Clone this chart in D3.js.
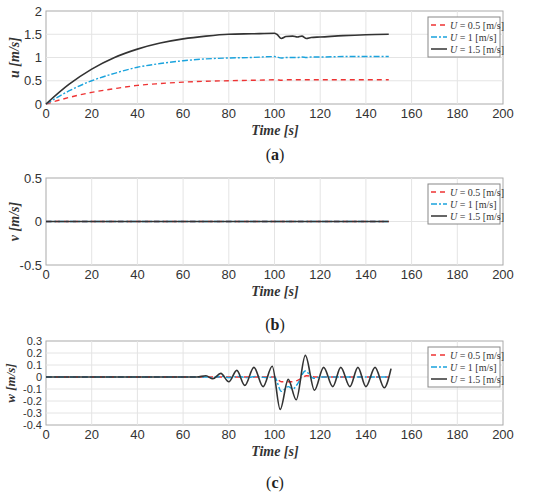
<!DOCTYPE html>
<html><head><meta charset="utf-8">
<script src="https://cdn.jsdelivr.net/npm/d3@7"></script>
<style>body{margin:0;background:#fff}</style>
</head><body><svg id="c" width="550" height="504"></svg>
<script>
// time samples for u
const tU = [0,10,20,30,40,50,60,70,80,90,100,101,103,105,108,110,112,114,116,120,130,140,150];
const u05 = [0,0.14,0.25,0.33,0.40,0.44,0.47,0.49,0.50,0.51,0.52,0.52,0.51,0.52,0.52,0.52,0.52,0.52,0.52,0.52,0.52,0.52,0.52];
const u10 = [0,0.28,0.50,0.66,0.79,0.87,0.93,0.97,0.99,1.0,1.02,1.01,0.99,1.0,1.0,1.0,1.01,1.0,1.01,1.01,1.02,1.02,1.02];
const u15 = [0,0.42,0.75,1.0,1.18,1.31,1.40,1.46,1.50,1.51,1.52,1.50,1.41,1.45,1.46,1.44,1.46,1.41,1.43,1.44,1.47,1.49,1.50];
// w extrema
const tW15 = [0,60,66,70,73,76.5,80,83.5,87,91,95,99,102.5,106,109.5,113.5,117.5,121.5,125.5,129,133,136.5,140,144,148,151];
const w15 = [0,0,0,0.01,-0.015,0.03,-0.04,0.055,-0.07,0.08,-0.08,0.09,-0.27,-0.02,-0.19,0.18,-0.11,0.08,-0.08,0.08,-0.08,0.08,-0.08,0.08,-0.09,0.07];
const tW10 = [0,70,73,77,80,84,88,92,96,100,103,106,108,110,113.5,117,120,150];
const w10 = [0,0,-0.005,0.005,-0.005,0.005,-0.005,0.005,-0.005,0,-0.12,-0.08,-0.1,-0.06,0.05,-0.01,0,0];
const tW05 = [0,100,103,108,111,114,118,150];
const w05 = [0,0,-0.04,-0.04,-0.02,0.01,0,0];
const xTicks = [0,20,40,60,80,100,120,140,160,180,200];
const legendLabels = ["= 0.5 [m/s]","= 1    [m/s]","= 1.5 [m/s]"];
const colors = ["#ee3333","#1aa3dd","#333333"];
const dashes = ["5,4","6,2,2,2",null];

const svg = d3.select("#c");
const x = d3.scaleLinear().domain([0,200]).range([46,503]);

function panel(o){
  const y = d3.scaleLinear().domain(o.yd).range([o.y1,o.y0]);
  const g = svg.append("g");
  g.append("rect").attr("x",46).attr("y",o.y0).attr("width",457).attr("height",o.y1-o.y0)
    .attr("fill","#fff").attr("stroke","#aaa");
  g.selectAll(".gx").data(xTicks.slice(1,-1)).join("line").attr("x1",x).attr("x2",x)
    .attr("y1",o.y0).attr("y2",o.y1).attr("stroke","#e4e4e4");
  g.selectAll(".gy").data(o.yt.slice(1,-1)).join("line").attr("y1",y).attr("y2",y)
    .attr("x1",46).attr("x2",503).attr("stroke","#e4e4e4");
  g.selectAll(".tx").data(xTicks).join("text").attr("x",x).attr("y",o.y1+14)
    .attr("text-anchor","middle").attr("font-family","Liberation Sans").attr("font-size",13)
    .attr("fill","#333").text(d=>d);
  g.selectAll(".ty").data(o.yt).join("text").attr("x",42).attr("y",d=>y(d)+o.fs*0.35)
    .attr("text-anchor","end").attr("font-family","Liberation Sans").attr("font-size",o.fs)
    .attr("fill","#333").text(d=>d);
  g.append("text").attr("x",275).attr("y",o.y1+31).attr("text-anchor","middle")
    .attr("font-family","Liberation Serif").attr("font-weight","bold").attr("font-style","italic")
    .attr("font-size",14).attr("fill","#333").text("Time [s]");
  g.append("text").attr("transform",`translate(${o.lx},${(o.y0+o.y1)/2}) rotate(-90)`).attr("text-anchor","middle")
    .attr("font-family","Liberation Serif").attr("font-weight","bold").attr("font-style","italic")
    .attr("font-size",o.lfs).attr("fill","#333").text(o.label);
  g.append("text").attr("x",275).attr("y",o.cap).attr("text-anchor","middle")
    .attr("font-family","Liberation Serif").attr("font-size",16).attr("fill","#222")
    .html(`(<tspan font-weight="bold">${o.letter}</tspan>)`);
  o.series.forEach((s,i)=>{
    const line = d3.line().x(d=>x(d[0])).y(d=>y(d[1])).curve(o.curve);
    g.append("path").attr("d",line(d3.zip(s[0],s[1]))).attr("fill","none")
      .attr("stroke",colors[i]).attr("stroke-width",i==2?1.6:1.4).attr("stroke-dasharray",dashes[i]);
  });
  const lg = g.append("g").attr("transform",`translate(428,${o.y0+6})`);
  lg.append("rect").attr("width",72).attr("height",40).attr("fill","#fff").attr("stroke","#888");
  legendLabels.forEach((l,i)=>{
    const yy = 8+i*12;
    lg.append("line").attr("x1",3).attr("x2",19).attr("y1",yy).attr("y2",yy)
      .attr("stroke",colors[i]).attr("stroke-width",1.5).attr("stroke-dasharray",dashes[i]);
    lg.append("text").attr("x",22).attr("y",yy+3.5).attr("font-family","Liberation Serif")
      .attr("font-size",10).attr("fill","#333")
      .html(`<tspan font-style="italic">U</tspan> ${l}`);
  });
}

panel({y0:11,y1:104,yd:[0,2],yt:[0,0.5,1,1.5,2],label:"u  [m/s]",letter:"a",cap:160,curve:d3.curveMonotoneX,fs:13,lx:19,lfs:14,
  series:[[tU,u05],[tU,u10],[tU,u15]]});
panel({y0:178,y1:265,yd:[-0.5,0.5],yt:[-0.5,0,0.5],label:"v  [m/s]",letter:"b",cap:330,curve:d3.curveLinear,fs:13,lx:19,lfs:14,
  series:[[[0,150],[0,0]],[[0,150],[0,0]],[[0,150],[0,0]]]});
panel({y0:341,y1:425,yd:[-0.4,0.3],yt:[-0.4,-0.3,-0.2,-0.1,0,0.1,0.2,0.3],label:"w  [m/s]",letter:"c",cap:488,curve:d3.curveMonotoneX,fs:11,lx:15,lfs:13,
  series:[[tW05,w05],[tW10,w10],[tW15,w15]]});
</script></body></html>
